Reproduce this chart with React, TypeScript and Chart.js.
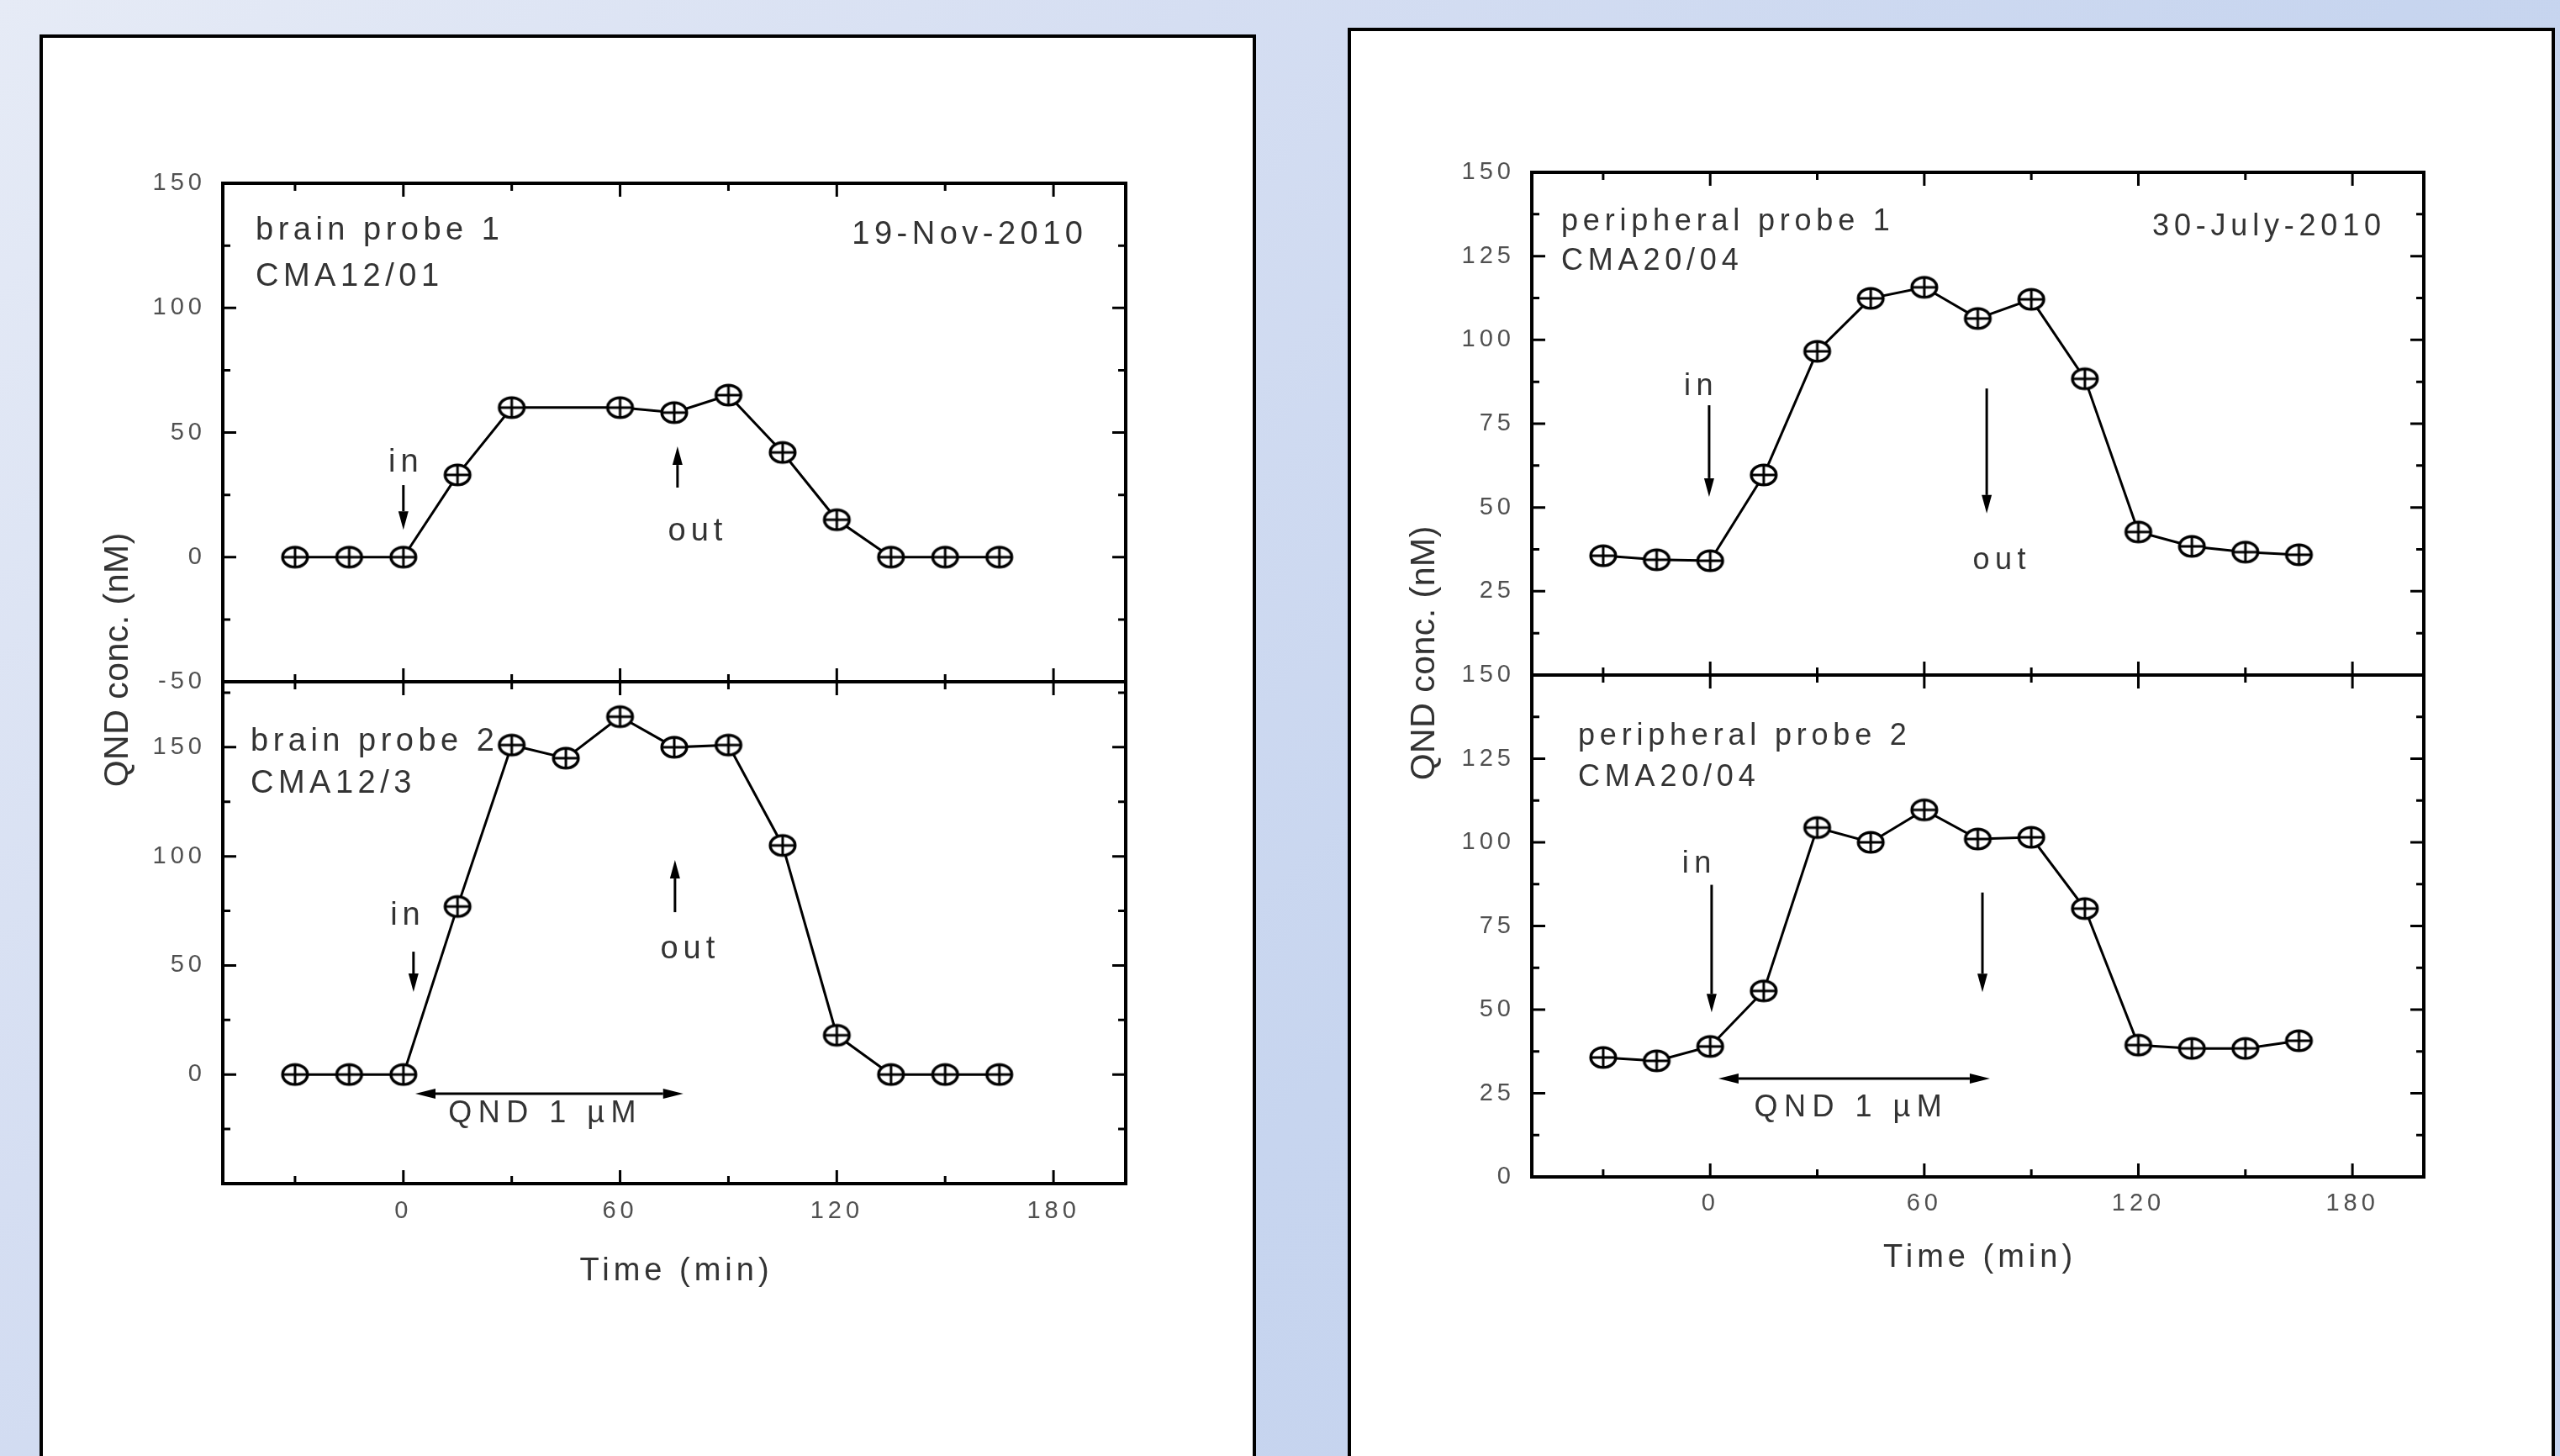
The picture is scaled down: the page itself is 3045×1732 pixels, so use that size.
import React, { useEffect, useRef } from 'react';
import { Chart, registerables } from 'chart.js';

Chart.register(...registerables);

const PAGE_W = 3045;
const PAGE_H = 1732;

// ---------- data ----------
const sampleTimes = [-30, -15, 0, 15, 30, 45, 60, 75, 90, 105, 120, 135, 150, 165];
const brainProbe1Times = [-30, -15, 0, 15, 30, 60, 75, 90, 105, 120, 135, 150, 165];
const brainProbe1Values = [0, 0, 0, 33, 60, 60, 58, 65, 42, 15, 0, 0, 0];
const brainProbe2Values = [0, 0, 0, 77, 151, 145, 164, 150, 151, 105, 18, 0, 0, 0];
const peripheralProbe1Values = [35.6, 34.4, 34.1, 59.7, 96.6, 112.4, 115.7, 106.4, 112.1, 88.4, 42.7, 38.4, 36.7, 35.9];
const peripheralProbe2Values = [35.7, 34.7, 39.0, 55.6, 104.4, 100, 109.7, 101, 101.5, 80.2, 39.4, 38.4, 38.4, 40.7];

const timeTicks = [-30, 0, 30, 60, 90, 120, 150, 180];
const timeMajor = [0, 60, 120, 180];
const brainTopTicks = [-50, -25, 0, 25, 50, 75, 100, 125, 150];
const brainBottomTicks = [-50, -25, 0, 25, 50, 75, 100, 125, 150, 175];
const brainMajor = [-50, 0, 50, 100, 150];
const brainTopLabels = [-50, 0, 50, 100, 150];
const brainBottomLabels = [0, 50, 100, 150];
const periphTicks = [0, 12.5, 25, 37.5, 50, 62.5, 75, 87.5, 100, 112.5, 125, 137.5, 150];
const periphMajor = [0, 25, 50, 75, 100, 125, 150];
const periphTopLabels = [25, 50, 75, 100, 125, 150];
const periphBottomLabels = [0, 25, 50, 75, 100, 125, 150];

const yTitleText = 'QND conc. (nM)';
const xTitleText = 'Time (min)';
const doseText = 'QND 1 \u00b5M';

// ---------- layout / annotation config ----------
type CornerText = { text: string; dx: number; dy: number; align: 'left' | 'right' };
type DataText = { text: string; x: number; y: number; size: number; spacing: number };
type VArrow = { x: number; from: number; to: number };
type HArrow = { y: number; from: number; to: number };
type SubCfg = {
  id: string;
  area: { left: number; top: number; right: number; bottom: number };
  yMin: number; yMax: number;
  times: number[]; values: number[];
  yTicks: number[]; yMajor: number[]; yLabels: number[];
  showX: boolean;
  cornerSize: number; cornerSpacing: number;
  corner: CornerText[];
  texts: DataText[];
  arrows: VArrow[];
  hArrows: HArrow[];
  titles?: { xDy: number; yDx: number; yDy: number };
  xPad: number;
};

const subplots: SubCfg[] = [
  {
    id: 'brain1',
    area: { left: 265, top: 218, right: 1339, bottom: 811 },
    yMin: -50, yMax: 150,
    times: brainProbe1Times, values: brainProbe1Values,
    yTicks: brainTopTicks, yMajor: brainMajor, yLabels: brainTopLabels,
    showX: false,
    cornerSize: 38, cornerSpacing: 5.5,
    corner: [
      { text: 'brain probe 1', dx: 39, dy: 67, align: 'left' },
      { text: 'CMA12/01', dx: 39, dy: 122, align: 'left' },
      { text: '19-Nov-2010', dx: -51, dy: 72, align: 'right' },
    ],
    texts: [
      { text: 'in', x: 0, y: 34.3, size: 38, spacing: 6 },
      { text: 'out', x: 80.8, y: 6.7, size: 38, spacing: 6 },
    ],
    arrows: [
      { x: 0, from: 28.9, to: 11.0 },
      { x: 75.9, from: 27.9, to: 44.4 },
    ],
    hArrows: [],
    xPad: 16,
  },
  {
    id: 'brain2',
    area: { left: 265, top: 811, right: 1339, bottom: 1408 },
    yMin: -50, yMax: 180,
    times: sampleTimes, values: brainProbe2Values,
    yTicks: brainBottomTicks, yMajor: brainMajor, yLabels: brainBottomLabels,
    showX: true,
    cornerSize: 38, cornerSpacing: 5.5,
    corner: [
      { text: 'brain probe 2', dx: 33, dy: 82, align: 'left' },
      { text: 'CMA12/3', dx: 33, dy: 132, align: 'left' },
    ],
    texts: [
      { text: 'in', x: 0.5, y: 68.7, size: 38, spacing: 6 },
      { text: 'out', x: 78.7, y: 53.2, size: 38, spacing: 6 },
      { text: doseText, x: 38.4, y: -21.9, size: 36, spacing: 7.5 },
    ],
    arrows: [
      { x: 2.8, from: 56.3, to: 37.8 },
      { x: 75.2, from: 74.4, to: 98.3 },
    ],
    hArrows: [{ y: -8.8, from: 3.3, to: 77.5 }],
    titles: { xDy: 115, yDx: -124, yDy: -26 },
    xPad: 16,
  },
  {
    id: 'periph1',
    area: { left: 1822, top: 205, right: 2883, bottom: 803 },
    yMin: 0, yMax: 150,
    times: sampleTimes, values: peripheralProbe1Values,
    yTicks: periphTicks, yMajor: periphMajor, yLabels: periphTopLabels,
    showX: false,
    cornerSize: 36, cornerSpacing: 5.8,
    corner: [
      { text: 'peripheral probe 1', dx: 35, dy: 69, align: 'left' },
      { text: 'CMA20/04', dx: 35, dy: 116, align: 'left' },
      { text: '30-July-2010', dx: -51, dy: 75, align: 'right' },
    ],
    texts: [
      { text: 'in', x: -3.3, y: 83.5, size: 36, spacing: 6.5 },
      { text: 'out', x: 81, y: 31.6, size: 36, spacing: 6.5 },
    ],
    arrows: [
      { x: -0.3, from: 80.5, to: 53.2 },
      { x: 77.5, from: 85.5, to: 48.2 },
    ],
    hArrows: [],
    xPad: 15,
  },
  {
    id: 'periph2',
    area: { left: 1822, top: 803, right: 2883, bottom: 1400 },
    yMin: 0, yMax: 150,
    times: sampleTimes, values: peripheralProbe2Values,
    yTicks: periphTicks, yMajor: periphMajor, yLabels: periphBottomLabels,
    showX: true,
    cornerSize: 36, cornerSpacing: 5.8,
    corner: [
      { text: 'peripheral probe 2', dx: 55, dy: 83, align: 'left' },
      { text: 'CMA20/04', dx: 55, dy: 132, align: 'left' },
    ],
    texts: [
      { text: 'in', x: -3.8, y: 91, size: 36, spacing: 6.5 },
      { text: doseText, x: 38.6, y: 18.1, size: 36, spacing: 7.5 },
    ],
    arrows: [
      { x: 0.4, from: 87.3, to: 49.2 },
      { x: 76.3, from: 85, to: 55.2 },
    ],
    hArrows: [{ y: 29.4, from: 2.3, to: 78.4 }],
    titles: { xDy: 107, yDx: -127, yDy: -26 },
    xPad: 15,
  },
];

const FONT = '"Liberation Sans", Arial, Helvetica, sans-serif';
const TEXT_COLOR = '#333333';
const TICK_COLOR = '#505050';

function drawText(
  ctx: CanvasRenderingContext2D, text: string, x: number, y: number,
  size: number, spacing: number, align: 'left' | 'center' | 'right',
  baseline: CanvasTextBaseline = 'alphabetic'
) {
  ctx.save();
  ctx.font = `${size}px ${FONT}`;
  (ctx as any).letterSpacing = `${spacing}px`;
  ctx.fillStyle = TEXT_COLOR;
  ctx.textBaseline = baseline;
  ctx.textAlign = 'left';
  const w = ctx.measureText(text).width - spacing;
  let sx = x;
  if (align === 'center') sx = x - w / 2;
  else if (align === 'right') sx = x - w;
  ctx.fillText(text, sx, y);
  ctx.restore();
}

function arrowHead(ctx: CanvasRenderingContext2D, tx: number, ty: number, dx: number, dy: number, len: number, half: number) {
  const bx = tx - dx * len;
  const by = ty - dy * len;
  ctx.beginPath();
  ctx.moveTo(tx, ty);
  ctx.lineTo(bx - dy * half, by + dx * half);
  ctx.lineTo(bx + dy * half, by - dx * half);
  ctx.closePath();
  ctx.fill();
}

function makeMarker(): HTMLCanvasElement {
  const c = document.createElement('canvas');
  c.width = 36;
  c.height = 30;
  const g = c.getContext('2d')!;
  g.fillStyle = '#ffffff';
  g.strokeStyle = '#000000';
  g.lineWidth = 3.5;
  g.beginPath();
  g.ellipse(18, 15, 14.8, 11.8, 0, 0, Math.PI * 2);
  g.fill();
  g.stroke();
  g.lineWidth = 3;
  g.beginPath();
  g.moveTo(18, 3);
  g.lineTo(18, 27);
  g.moveTo(3, 15);
  g.lineTo(33, 15);
  g.stroke();
  return c;
}

function makeDecor(cfg: SubCfg) {
  return {
    id: 'decor_' + cfg.id,
    beforeDraw(chart: any) {
      chart.ctx.letterSpacing = '5px';
    },
    afterDraw(chart: any) {
      const ctx: CanvasRenderingContext2D = chart.ctx;
      const { left, right, top, bottom } = chart.chartArea;
      const xs = chart.scales.x;
      const ys = chart.scales.y;
      ctx.save();
      (ctx as any).letterSpacing = '0px';
      ctx.strokeStyle = '#000';
      ctx.fillStyle = '#000';
      // inward ticks
      ctx.lineWidth = 3;
      ctx.beginPath();
      xs.ticks.forEach((t: any) => {
        const px = xs.getPixelForValue(t.value);
        const len = timeMajor.includes(t.value) ? 16 : 9;
        ctx.moveTo(px, bottom);
        ctx.lineTo(px, bottom - len);
        ctx.moveTo(px, top);
        ctx.lineTo(px, top + len);
      });
      ys.ticks.forEach((t: any) => {
        const py = ys.getPixelForValue(t.value);
        const len = cfg.yMajor.includes(t.value) ? 16 : 9;
        ctx.moveTo(left, py);
        ctx.lineTo(left + len, py);
        ctx.moveTo(right, py);
        ctx.lineTo(right - len, py);
      });
      ctx.stroke();
      // frame
      ctx.lineWidth = 4;
      ctx.strokeRect(left, top, right - left, bottom - top);

      // vertical arrows
      ctx.lineWidth = 3;
      cfg.arrows.forEach((a) => {
        const px = xs.getPixelForValue(a.x);
        const p0 = ys.getPixelForValue(a.from);
        const p1 = ys.getPixelForValue(a.to);
        const dir = p1 > p0 ? 1 : -1;
        const headLen = 22;
        ctx.beginPath();
        ctx.moveTo(px, p0);
        ctx.lineTo(px, p1 - dir * headLen);
        ctx.stroke();
        arrowHead(ctx, px, p1, 0, dir, headLen, 6);
      });
      // horizontal double arrows
      cfg.hArrows.forEach((a) => {
        const py = ys.getPixelForValue(a.y);
        const x0 = xs.getPixelForValue(a.from);
        const x1 = xs.getPixelForValue(a.to);
        const headLen = 24;
        ctx.beginPath();
        ctx.moveTo(x0 + headLen, py);
        ctx.lineTo(x1 - headLen, py);
        ctx.stroke();
        arrowHead(ctx, x0, py, -1, 0, headLen, 6);
        arrowHead(ctx, x1, py, 1, 0, headLen, 6);
      });

      // corner texts
      cfg.corner.forEach((c) => {
        const x = c.align === 'left' ? left + c.dx : right + c.dx;
        drawText(ctx, c.text, x, top + c.dy, cfg.cornerSize, cfg.cornerSpacing, c.align);
      });
      // data-anchored texts
      cfg.texts.forEach((t) => {
        drawText(ctx, t.text, xs.getPixelForValue(t.x), ys.getPixelForValue(t.y), t.size, t.spacing, 'center');
      });

      // shared titles
      if (cfg.titles) {
        drawText(ctx, xTitleText, (left + right) / 2, bottom + cfg.titles.xDy, 38, 5, 'center');
        ctx.save();
        ctx.translate(left + cfg.titles.yDx, top + cfg.titles.yDy);
        ctx.rotate(-Math.PI / 2);
        drawText(ctx, yTitleText, 0, 0, 41, 0.5, 'center', 'middle');
        ctx.restore();
      }
      ctx.restore();
    },
  };
}

function SubChart({ cfg }: { cfg: SubCfg }) {
  const ref = useRef<HTMLCanvasElement>(null);
  useEffect(() => {
    const canvas = ref.current;
    if (!canvas) return;
    const marker = makeMarker();
    const AXIS_W = 130;
    const AXIS_H = 70;
    const chart = new Chart(canvas, {
      type: 'line',
      data: {
        datasets: [
          {
            data: cfg.times.map((t, i) => ({ x: t, y: cfg.values[i] })),
            borderColor: '#000',
            borderWidth: 3,
            tension: 0,
            fill: false,
            pointStyle: marker as any,
            pointRadius: 16,
            pointBackgroundColor: '#fff',
            pointBorderColor: '#000',
            clip: false as any,
          },
        ],
      },
      plugins: [makeDecor(cfg)],
      options: {
        responsive: false,
        maintainAspectRatio: false,
        animation: false,
        events: [],
        devicePixelRatio: 1,
        layout: {
          padding: {
            left: cfg.area.left - AXIS_W,
            top: cfg.area.top,
            right: PAGE_W - cfg.area.right,
            bottom: PAGE_H - cfg.area.bottom - AXIS_H,
          },
        },
        plugins: {
          legend: { display: false },
          tooltip: { enabled: false },
          title: { display: false },
        },
        scales: {
          x: {
            type: 'linear',
            position: 'bottom',
            min: -50,
            max: 200,
            afterFit: (s: any) => { s.height = AXIS_H; },
            afterBuildTicks: (s: any) => { s.ticks = timeTicks.map((v) => ({ value: v })); },
            grid: { display: false, drawTicks: false, tickLength: 0 },
            border: { display: false },
            ticks: {
              display: cfg.showX,
              autoSkip: false,
              maxRotation: 0,
              minRotation: 0,
              padding: cfg.xPad,
              color: TICK_COLOR,
              font: { family: FONT, size: 29 },
              callback: (v: any) => (timeMajor.includes(Number(v)) ? String(v) : ''),
            },
          },
          y: {
            type: 'linear',
            position: 'left',
            min: cfg.yMin,
            max: cfg.yMax,
            afterFit: (s: any) => { s.width = AXIS_W; },
            afterBuildTicks: (s: any) => { s.ticks = cfg.yTicks.map((v) => ({ value: v })); },
            grid: { display: false, drawTicks: false, tickLength: 0 },
            border: { display: false },
            ticks: {
              autoSkip: false,
              padding: 20,
              color: TICK_COLOR,
              font: { family: FONT, size: 29 },
              callback: (v: any) => (cfg.yLabels.includes(Number(v)) ? String(v) : ''),
            },
          },
        },
      } as any,
    });
    return () => chart.destroy();
  }, [cfg]);
  return (
    <canvas
      ref={ref}
      width={PAGE_W}
      height={PAGE_H}
      style={{ position: 'absolute', left: 0, top: 0, width: PAGE_W, height: PAGE_H }}
    />
  );
}

export default function App() {
  return (
    <div
      style={{
        position: 'absolute',
        left: 0,
        top: 0,
        width: PAGE_W,
        height: PAGE_H,
        overflow: 'hidden',
        background: 'linear-gradient(135deg, #e6ebf6 0%, #d5def2 30%, #c7d5ef 60%, #c4d2ee 100%)',
      }}
    >
      <div
        style={{
          position: 'absolute', left: 47, top: 41, width: 1447, height: PAGE_H,
          boxSizing: 'border-box', border: '4px solid #000', borderBottom: 'none', background: '#fff',
        }}
      />
      <div
        style={{
          position: 'absolute', left: 1603, top: 33, width: 1436, height: PAGE_H,
          boxSizing: 'border-box', border: '4px solid #000', borderBottom: 'none', background: '#fff',
        }}
      />
      {subplots.map((cfg) => (
        <SubChart key={cfg.id} cfg={cfg} />
      ))}
    </div>
  );
}
